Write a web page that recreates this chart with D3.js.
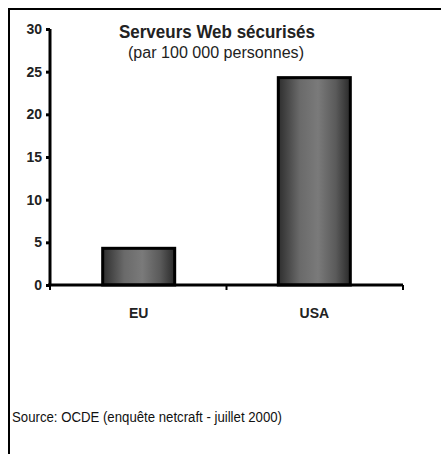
<!DOCTYPE html>
<meta charset="utf-8">
<title>Serveurs Web sécurisés</title>
<style>
  body { margin: 0; background: #fff; }
  text { font-family: "Liberation Sans Narrow", "Arial Narrow", "Liberation Sans", sans-serif; fill: #111; }
</style>
<body>
<script src="https://d3js.org/d3.v7.min.js"></script>
<script type="text/javascript">

// data
var categories = ["EU", "USA"];
var values = [4.3, 24.3];
var yTicks = [0, 5, 10, 15, 20, 25, 30];

var width = 441, height = 454;

var svg = d3.select("body").append("svg")
    .attr("width", width)
    .attr("height", height);

// frame (runs off the right and bottom edges)
svg.append("rect")
    .attr("x", 9).attr("y", 9)
    .attr("width", 460).attr("height", 470)
    .style("fill", "white").style("stroke", "black").style("stroke-width", 2);

var x = d3.scaleBand()
    .domain(categories)
    .range([50, 403])
    .paddingInner(0.59)
    .paddingOuter(0.3);

var y = d3.scaleLinear()
    .domain([0, 30])
    .range([285, 29]);

// gradient for the bars
var grad = svg.append("defs").append("linearGradient")
    .attr("id", "barGrad")
    .attr("x1", "0%").attr("x2", "100%").attr("y1", "0%").attr("y2", "0%");
grad.append("stop").attr("offset", "0%").attr("stop-color", "#2e2e2e");
grad.append("stop").attr("offset", "30%").attr("stop-color", "#6a6a6a");
grad.append("stop").attr("offset", "55%").attr("stop-color", "#7a7a7a");
grad.append("stop").attr("offset", "80%").attr("stop-color", "#5a5a5a");
grad.append("stop").attr("offset", "100%").attr("stop-color", "#2a2a2a");

// bars
svg.selectAll(".bar")
    .data(values)
    .enter().append("rect")
    .attr("class", "bar")
    .attr("x", function(d, i) { return x(categories[i]); })
    .attr("y", function(d) { return y(d); })
    .attr("width", x.bandwidth())
    .attr("height", function(d) { return y(0) - y(d); })
    .style("fill", "url(#barGrad)")
    .style("stroke", "black")
    .style("stroke-width", 3);

// y axis
var yAxis = svg.append("g")
    .attr("transform", "translate(50,0)")
    .call(d3.axisLeft(y).tickValues(yTicks).tickSize(4).tickPadding(4));
yAxis.select(".domain").style("stroke", "black").style("stroke-width", 3)
    .attr("d", "M0," + y(30) + "V" + y(0));
yAxis.selectAll(".tick line").style("stroke", "black").style("stroke-width", 3);
yAxis.selectAll(".tick text")
    .style("font-size", "14px").style("font-weight", "bold").style("fill", "#222");

// x axis
var xAxis = svg.append("g")
    .attr("transform", "translate(0," + y(0) + ")");
xAxis.append("line")
    .attr("x1", 48).attr("x2", 403).attr("y1", 0).attr("y2", 0)
    .style("stroke", "black").style("stroke-width", 3);
var xTickPos = [50, (50 + 403) / 2, 403];
xAxis.selectAll(".xt")
    .data(xTickPos)
    .enter().append("line")
    .attr("x1", function(d) { return d; }).attr("x2", function(d) { return d; })
    .attr("y1", 0).attr("y2", 5)
    .style("stroke", "black").style("stroke-width", 2);
xAxis.selectAll(".xl")
    .data(categories)
    .enter().append("text")
    .attr("x", function(d) { return x(d) + x.bandwidth() / 2; })
    .attr("y", 33)
    .attr("text-anchor", "middle")
    .style("font-size", "14px").style("font-weight", "bold").style("fill", "#222")
    .text(function(d) { return d; });

// title
svg.append("text")
    .attr("x", 217).attr("y", 38)
    .attr("text-anchor", "middle")
    .attr("textLength", 196).attr("lengthAdjust", "spacingAndGlyphs")
    .style("font-size", "18px").style("font-weight", "bold").style("fill", "#222")
    .text("Serveurs Web sécurisés");
svg.append("text")
    .attr("x", 216).attr("y", 58)
    .attr("text-anchor", "middle")
    .attr("textLength", 176).attr("lengthAdjust", "spacingAndGlyphs")
    .style("font-size", "16px").style("fill", "#222")
    .text("(par 100 000 personnes)");

// source
svg.append("text")
    .attr("x", 12).attr("y", 422)
    .attr("textLength", 270).attr("lengthAdjust", "spacingAndGlyphs")
    .style("font-size", "14px").style("fill", "#111")
    .text("Source: OCDE (enquête netcraft - juillet 2000)");

</script>
</body>
